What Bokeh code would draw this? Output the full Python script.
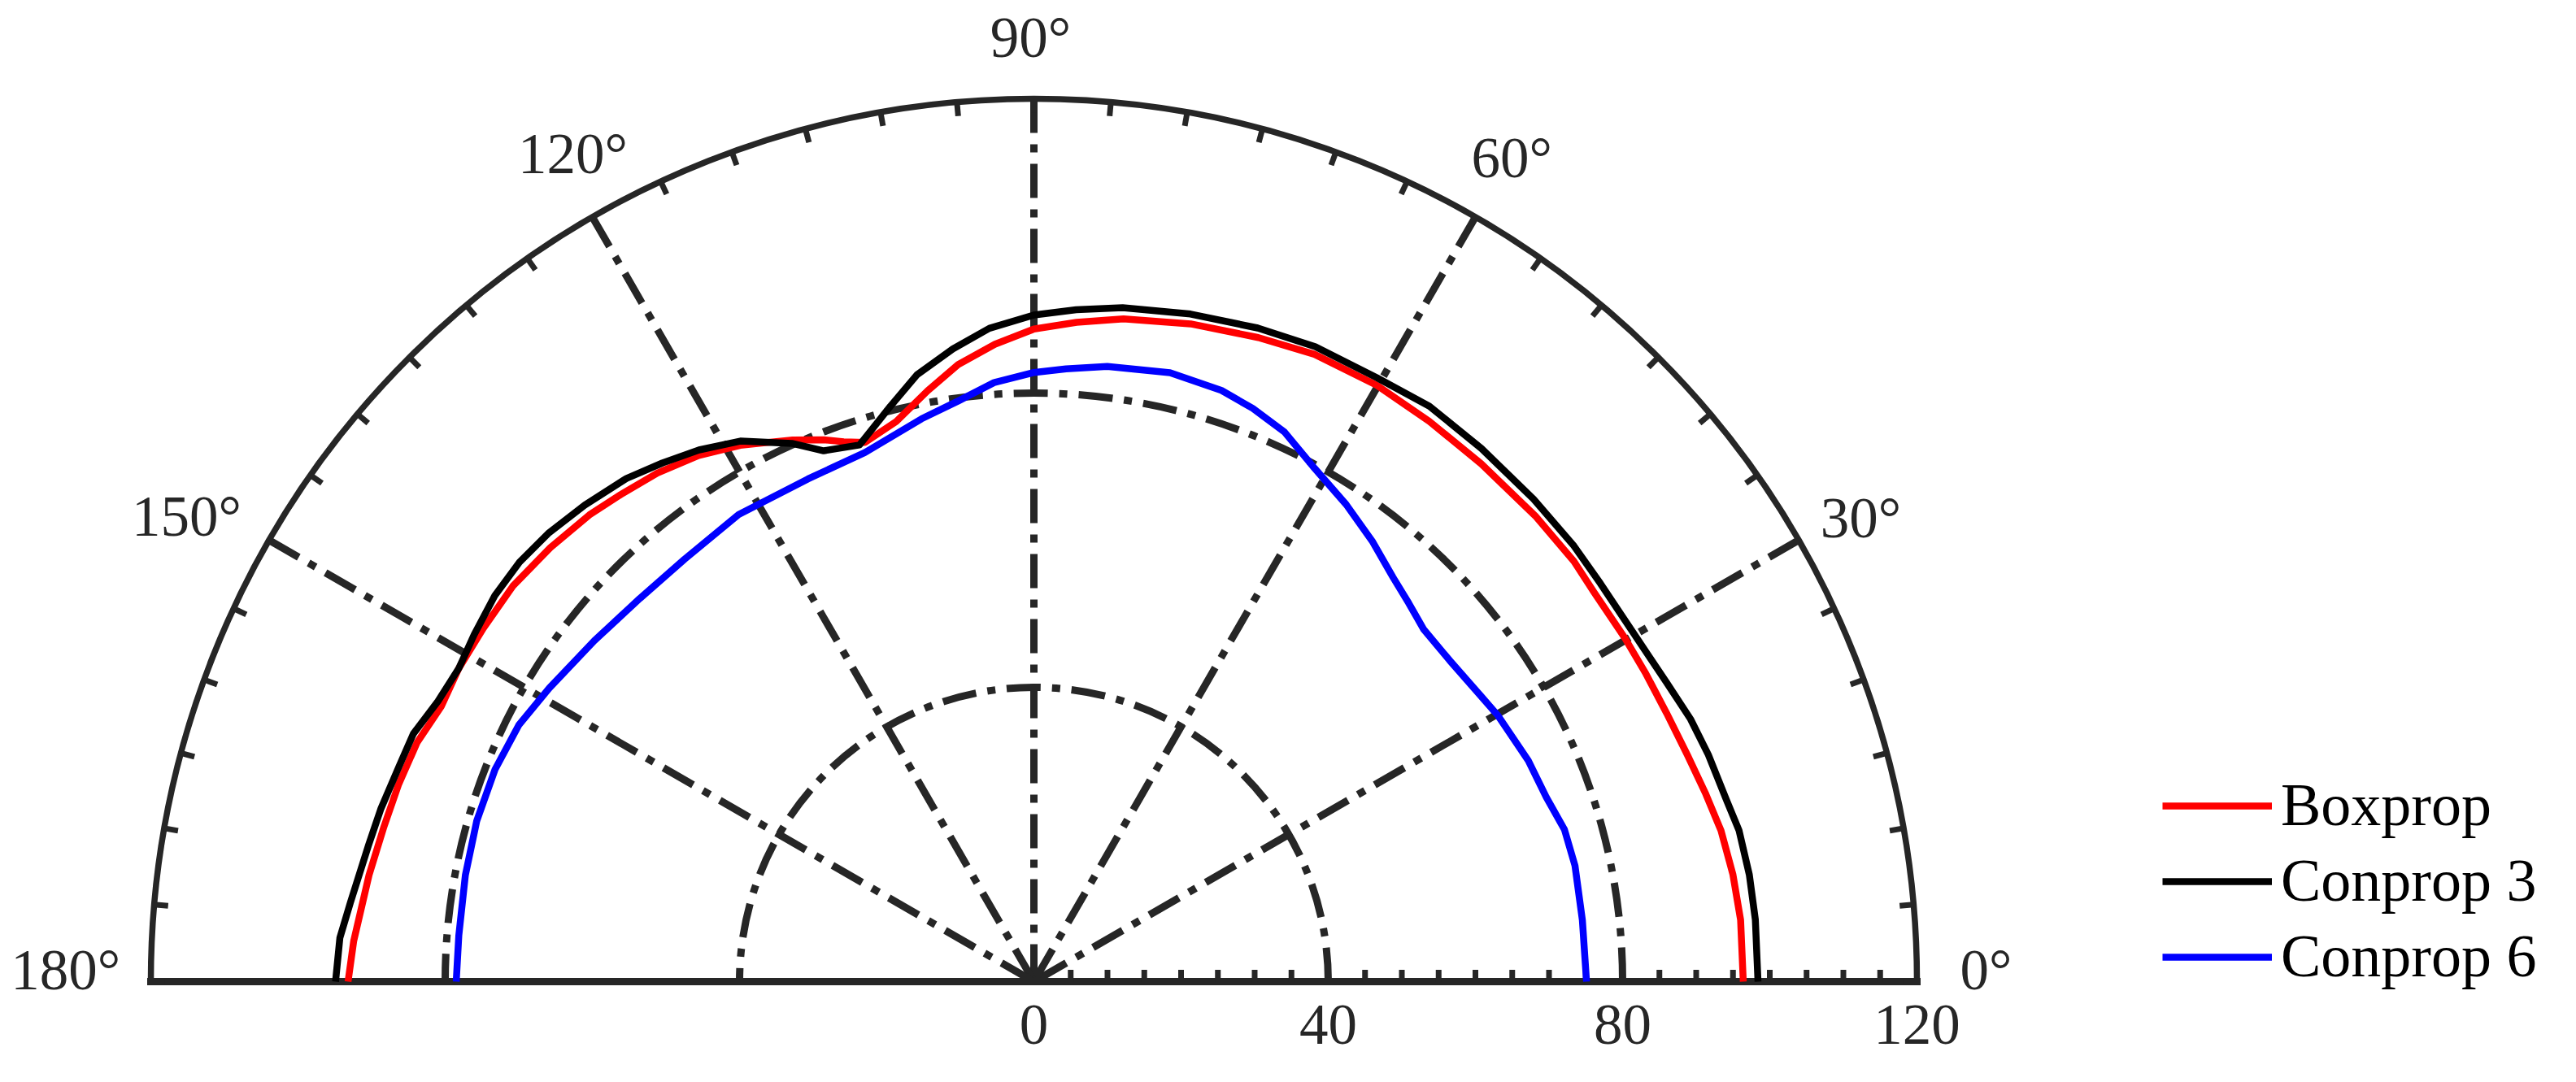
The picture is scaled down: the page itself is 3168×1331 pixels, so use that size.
import numpy as np
from bokeh.plotting import figure
from bokeh.models import ColumnDataSource, Legend, LegendItem, Range1d
from bokeh.embed import file_html
from bokeh.resources import INLINE
from bokeh.core.properties import value

# ---------------- data (theta in degrees, radius) ----------------
boxprop_theta = [0, 5, 8.7, 12.4, 15.6, 19.1, 23, 26.7, 30.2, 34.8, 37.9, 42.9, 49.2, 54.8, 60.1, 65.9,
                 70.8, 76.6, 82.3, 86.3, 90, 93.5, 97, 100.2, 103.8, 107.4, 109.4, 111.2, 114, 118.7,
                 122.5, 126.5, 130.3, 133.6, 138.1, 142.8, 147.3, 151.4, 155.1, 158.8, 162.8, 166.6,
                 170.9, 176.6, 180]
boxprop_r = [96.4, 96.4, 96.1, 95.6, 94.8, 94.0, 93.4, 93.1, 92.9, 92.7, 93.0, 93.0, 93.0, 93.2, 93.5, 93.4,
             92.7, 91.9, 90.9, 89.8, 88.7, 86.8, 84.5, 81.6, 78.4, 76.8, 77.8, 79.0, 80.6, 83.1,
             84.8, 86.0, 86.8, 87.6, 88.3, 88.9, 88.9, 89.0, 88.8, 89.9, 90.4, 90.8,
             91.5, 92.6, 93.2]

conprop3_theta = [0, 4.9, 8.5, 12.1, 14.7, 18.6, 21.8, 25.3, 29.7, 35.1, 38.9, 44, 50, 55.5, 60.4, 66.1,
                  71.1, 76.8, 82.5, 86.4, 90, 93.9, 97.3, 100.9, 104, 108, 111.6, 114.2, 118.5, 122.2,
                  125.6, 129, 133.3, 137.2, 140.8, 144.4, 148.2, 151.4, 154.8, 158.2, 161.3, 165.2,
                  168.4, 173.4, 176.4, 180]
conprop3_r = [98.4, 98.4, 98.3, 98.0, 97.3, 96.7, 96.1, 95.1, 94.3, 94.1, 94.3, 94.4, 94.6, 94.9, 94.4, 94.4,
              93.9, 93.2, 92.4, 91.5, 90.6, 89.0, 86.7, 84.0, 80.6, 76.7, 77.6, 80.2, 83.6, 85.4,
              86.7, 88.0, 89.0, 89.8, 90.2, 90.1, 89.5, 89.0, 89.5, 90.8, 91.1, 91.8,
              92.3, 93.5, 94.5, 94.9]

conprop6_theta = [0, 6.4, 12.1, 16, 19.8, 24.1, 29.8, 32.5, 37.7, 42.1, 45.3, 48.4, 52.5, 56.8, 61.3,
                  65.5, 69.1, 72.4, 77.4, 83.2, 87, 90, 93.8, 97.4, 101.3, 107.7, 114.2, 122.3, 129.6,
                  135.8, 142.2, 148.8, 153.5, 158.5, 163.9, 169.4, 175.4, 180]
conprop6_r = [75.1, 75.0, 75.2, 75.0, 74.0, 73.6, 72.7, 72.1, 71.4, 71.4, 72.4, 73.5, 75.5, 77.5, 79.5,
              82.1, 83.4, 84.3, 84.8, 84.2, 83.4, 82.8, 81.6, 79.6, 78.0, 75.5, 74.9, 75.1, 74.5,
              74.7, 75.6, 77.0, 78.2, 78.7, 78.8, 78.6, 78.4, 78.5]

series_names = ["Boxprop", "Conprop 3", "Conprop 6"]
series_colors = ["#ff0000", "#000000", "#0000ff"]

r_max = 120
r_grid = [40, 80]
r_tick_values = [0, 40, 80, 120]
r_tick_labels = ["0", "40", "80", "120"]
r_minor_step = 5
theta_grid = [30, 60, 90, 120, 150]
theta_tick_values = [0, 30, 60, 90, 120, 150, 180]
theta_tick_labels = ["0\u00b0", "30\u00b0", "60\u00b0", "90\u00b0", "120\u00b0", "150\u00b0", "180\u00b0"]
theta_minor_step = 5

# ---------------- layout / style ----------------
W, H = 3152, 1315
PX = 9.05                      # pixels per radial unit
cx, cy = 1271, 1207            # pole position in canvas pixels
x_range = Range1d(-cx / PX, (W - cx) / PX)
y_range = Range1d(-(H - cy) / PX, cy / PX)

# theta label placement (centre of each label, polar, in pixels / degrees)
label_rad_px = [1171, 1166, 1172, 1162, 1166, 1189, 1191]
label_ang_deg = [0.7, 29.3, 59.9, 90.2, 119.1, 151.2, 179.3]
r_label_offset = -5.9          # radial labels below the baseline (data units)

AX = "#262626"
FONT_NAME = "Liberation Serif"
FONT = value(FONT_NAME)
FS = "71px"
DASH = "42 14 10 14"

p = figure(width=W, height=H, x_range=x_range, y_range=y_range,
           x_axis_type=None, y_axis_type=None,
           output_backend="svg", toolbar_location=None, min_border=0)
p.grid.visible = False
p.outline_line_color = None
p.background_fill_color = "white"
p.border_fill_color = "white"

# grid circles
for rg in r_grid:
    p.arc(x=0, y=0, radius=rg, start_angle=0, end_angle=np.pi,
          line_color=AX, line_width=9, line_dash=DASH)

# radial grid lines (drawn from the rim inwards)
tg = np.deg2rad(theta_grid)
p.segment(x0=r_max * np.cos(tg), y0=r_max * np.sin(tg), x1=np.zeros(len(tg)), y1=np.zeros(len(tg)),
          line_color=AX, line_width=9, line_dash=DASH)

# outer rim and baseline
p.arc(x=0, y=0, radius=r_max, start_angle=0, end_angle=np.pi, line_color=AX, line_width=7.5)
p.segment(x0=[-r_max], y0=[0], x1=[r_max], y1=[0], line_color=AX, line_width=9, line_cap="square")

# angular minor ticks
tm = np.deg2rad(np.arange(0, 181, theta_minor_step))
tick_len = 1.9
p.segment(x0=r_max * np.cos(tm), y0=r_max * np.sin(tm),
          x1=(r_max - tick_len) * np.cos(tm), y1=(r_max - tick_len) * np.sin(tm),
          line_color=AX, line_width=7)

# radial minor ticks on the 0 deg side
rm = np.arange(r_minor_step, r_max, r_minor_step)
p.segment(x0=rm, y0=np.zeros(len(rm)), x1=rm, y1=np.full(len(rm), 1.6),
          line_color=AX, line_width=7)

# data curves
renderers = []
for th, rr, col in zip([boxprop_theta, conprop3_theta, conprop6_theta],
                       [boxprop_r, conprop3_r, conprop6_r], series_colors):
    t = np.deg2rad(np.array(th))
    r = np.array(rr)
    src = ColumnDataSource(dict(x=r * np.cos(t), y=r * np.sin(t)))
    renderers.append(p.line("x", "y", source=src, line_color=col, line_width=8.5, line_join="round"))

# theta tick labels
la = np.deg2rad(label_ang_deg)
lr = np.array(label_rad_px) / PX
tsrc = ColumnDataSource(dict(x=lr * np.cos(la), y=lr * np.sin(la), text=theta_tick_labels))
p.text("x", "y", text="text", source=tsrc, text_font=FONT, text_font_size=FS,
       text_color=AX, text_align="center", text_baseline="middle")

# r tick labels
rsrc = ColumnDataSource(dict(x=r_tick_values, y=[r_label_offset] * len(r_tick_values), text=r_tick_labels))
p.text("x", "y", text="text", source=rsrc, text_font=FONT, text_font_size=FS,
       text_color=AX, text_align="center", text_baseline="middle")

# legend
legend = Legend(items=[LegendItem(label=n, renderers=[r]) for n, r in zip(series_names, renderers)],
                location=(2659, 96), orientation="vertical",
                glyph_width=135, glyph_height=82, label_height=82, label_standoff=11, spacing=8,
                padding=0, margin=0, border_line_color=None, background_fill_alpha=0,
                label_text_font=FONT_NAME, label_text_font_size="74px", label_text_color="#000000",
                label_text_baseline="middle")
p.add_layout(legend)

open("out.html", "w").write(file_html(p, INLINE))
